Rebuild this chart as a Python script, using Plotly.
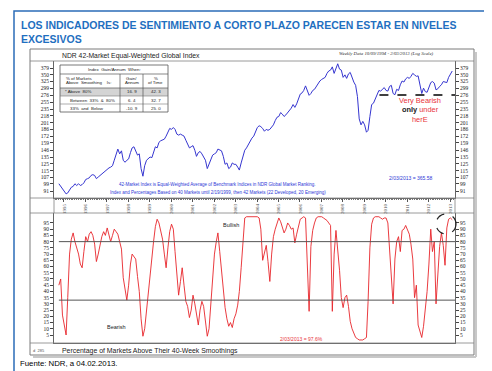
import plotly.graph_objects as go
import pandas as pd
import math

W, H = 492, 371
def px(x): return x / W
def py(y): return 1 - y / H

# ---------------- data ----------------
dates = pd.date_range("1994-10-01", periods=221, freq="MS") + pd.Timedelta(days=5)

index_values = [
    99, 96, 93,
    90, 88, 89, 92, 95, 96, 99, 97, 99, 97, 98, 100,
    104, 105, 106, 109, 110, 109, 105, 107, 109, 110, 113, 114,
    116, 119, 120, 122, 130, 138, 148, 140, 145, 130, 127, 130,
    132, 142, 150, 152, 144, 138, 140, 118, 108, 122, 130, 133,
    135, 134, 142, 152, 150, 160, 163, 165, 166, 172, 180, 188,
    186, 190, 186, 176, 174, 176, 174, 172, 164, 158, 150, 152,
    154, 146, 136, 142, 144, 140, 134, 130, 118, 124, 132, 138,
    140, 142, 148, 146, 145, 136, 124, 126, 118, 120, 126, 124,
    124, 120, 116, 126, 138, 146, 150, 156, 160, 168, 172, 182,
    190, 194, 192, 188, 182, 186, 184, 186, 192, 196, 206, 214,
    216, 226, 222, 216, 220, 226, 234, 238, 248, 240, 250, 262,
    280, 284, 292, 308, 290, 276, 282, 292, 296, 306, 318, 326,
    332, 336, 340, 356, 366, 370, 384, 356, 374, 398, 374, 370,
    340, 350, 336, 354, 360, 338, 322, 310, 272, 210, 196, 204,
    196, 180, 184, 216, 248, 252, 266, 280, 292, 290, 298, 302,
    292, 290, 306, 310, 282, 278, 296, 292, 312, 326, 322, 334,
    340, 336, 344, 356, 350, 344, 346, 306, 282, 300, 288, 286,
    304, 320, 324, 318, 294, 298, 306, 312, 324, 322, 320, 340,
    356, 366,
]

pct_above = [
    45, 50, 21,
    12, 5, 35, 70, 82, 87, 80, 75, 70, 62, 59, 72,
    84, 80, 86, 88, 85, 78, 64, 70, 78, 84, 88, 85,
    91, 86, 80, 85, 90, 88, 86, 80, 74, 51, 42, 33,
    45, 62, 70, 68, 66, 52, 40, 18, 4, 10, 25, 37,
    55, 70, 80, 92, 98, 95, 88, 82, 70, 59, 75, 88,
    94, 90, 72, 56, 37, 48, 59, 45, 32, 28, 19, 25,
    37, 30, 20, 13, 25, 32, 28, 15, 4, 10, 30, 56,
    70, 80, 87, 72, 55, 40, 27, 18, 12, 15, 11, 18,
    22, 29, 40, 59, 80, 99, 100, 100, 100, 100, 100, 100,
    100, 99, 90, 65, 72, 77, 64, 48, 70, 84, 90, 95,
    99, 96, 92, 87, 90, 95, 93, 90, 91, 79, 86, 91,
    98, 99, 100, 99, 56, 24, 76, 89, 95, 99, 100, 100,
    100, 99, 98, 97, 95, 93, 24, 70, 89, 75, 57, 35,
    27, 35, 37, 28, 16, 10, 6, 3, 2, 1, 1, 1,
    2, 3, 32, 75, 94, 99, 100, 100, 100, 99, 98, 99,
    99, 95, 72, 45, 30, 66, 80, 84, 72, 89, 90, 93,
    90, 86, 78, 66, 35, 45, 13, 8, 3, 12, 24, 40,
    62, 90, 72, 80, 30, 57, 76, 87, 77, 61, 91, 98,
    99, 97.6,
]

index_ticks = [379, 350, 325, 299, 276, 255, 235, 218, 201, 186, 172, 159,
               146, 135, 125, 115, 107, 99, 91]
pct_ticks = list(range(5, 100, 5))
years = list(range(1995, 2014))
BULL_LEVEL = 80
BEAR_LEVEL = 33
VERY_BEARISH_INDEX = 277
very_bearish_span = ["2009-09-15", "2013-03-25"]

table_rows = [("* Above  80%", "16. 9", "42. 3"),
              ("Between  33%  &  80%", "6. 4", "32. 7"),
              ("33%  and  Below", "-10. 9", "25. 0")]

# ---------------- figure ----------------
XR = ["1994-07-15", "2013-03-25"]
BLUE = "#3535d0"
RED = "#e8252a"
SERIF = "Liberation Serif"
SANS = "Liberation Sans"

fig = go.Figure()
fig.add_trace(go.Scatter(x=dates, y=index_values, mode="lines",
                         line=dict(color=BLUE, width=1), xaxis="x", yaxis="y",
                         hoverinfo="skip"))
fig.add_trace(go.Scatter(x=dates, y=index_values, mode="lines", opacity=0,
                         line=dict(width=0.1), xaxis="x", yaxis="y2", hoverinfo="skip"))
fig.add_trace(go.Scatter(x=very_bearish_span, y=[VERY_BEARISH_INDEX] * 2, mode="lines",
                         line=dict(color="black", width=1.4, dash="dash"),
                         xaxis="x", yaxis="y", hoverinfo="skip", cliponaxis=False))
fig.add_trace(go.Scatter(x=dates, y=pct_above, mode="lines",
                         line=dict(color=RED, width=0.9), xaxis="x2", yaxis="y3",
                         hoverinfo="skip"))
fig.add_trace(go.Scatter(x=dates, y=pct_above, mode="lines", opacity=0,
                         line=dict(width=0.1), xaxis="x2", yaxis="y4", hoverinfo="skip"))

xdom = [px(46), px(447)]
top_dom = [py(190), py(53)]
bot_dom = [py(335), py(205)]

lo = math.log10(91) - 7 * (math.log10(379) - math.log10(91)) / 123
hi = math.log10(379) + 7 * (math.log10(379) - math.log10(91)) / 123

tickfont = dict(family=SERIF, size=5.5, color="#222")
yax_common = dict(type="log", range=[lo, hi], tickvals=index_ticks,
                  ticktext=[str(v) for v in index_ticks], ticks="outside", ticklen=3,
                  tickcolor="#444", tickfont=tickfont, showgrid=False, zeroline=False,
                  showline=True, linecolor="#666", linewidth=0.8, domain=top_dom)
pax_common = dict(range=[-1.43, 103.0], tickvals=pct_ticks, ticks="outside", ticklen=3,
                  tickcolor="#444", tickfont=tickfont, showgrid=False, zeroline=False,
                  showline=True, linecolor="#666", linewidth=0.8, domain=bot_dom)

fig.update_layout(
    width=W, height=371, margin=dict(l=0, r=0, t=0, b=0),
    paper_bgcolor="white", plot_bgcolor="white", showlegend=False,
    xaxis=dict(domain=xdom, anchor="y", type="date", range=XR,
               tickvals=[f"{y}-01-01" for y in years], ticktext=[str(y) for y in years],
               tickangle=-90, tickfont=dict(family=SERIF, size=5, color="#444"),
               ticks="outside", ticklen=3, tickcolor="#555",
               minor=dict(dtick="M1", ticks="outside", ticklen=1.5, tickcolor="#777"),
               showgrid=False, showline=True, linecolor="#666", linewidth=0.8),
    yaxis=dict(side="left", **yax_common),
    yaxis2=dict(side="right", overlaying="y", anchor="x", **yax_common),
    xaxis2=dict(domain=xdom, anchor="y3", type="date", range=XR, showticklabels=False,
                ticks="", showgrid=False, showline=True, linecolor="#666", linewidth=0.8),
    yaxis3=dict(side="left", anchor="x2", **pax_common),
    yaxis4=dict(side="right", overlaying="y3", anchor="x2", **pax_common),
)

shapes = []
def line(x0, y0, x1, y1, color="#808080", width=0.8, dash="solid"):
    shapes.append(dict(type="line", xref="paper", yref="paper", x0=px(x0), y0=py(y0),
                       x1=px(x1), y1=py(y1), line=dict(color=color, width=width, dash=dash)))
def rect(x0, y0, x1, y1, color="#808080", width=0.8, fill=None):
    shapes.append(dict(type="rect", xref="paper", yref="paper", x0=px(x0), y0=py(y1),
                       x1=px(x1), y1=py(y0), line=dict(color=color, width=width),
                       fillcolor=fill if fill else "rgba(0,0,0,0)", layer="below" if fill else "above"))

# page frame and chart box
rect(6, 3, 487, 366, color="#2b6cb8", width=1.5)
line(468, 44, 468, 349, color="#c8c8c8", width=2)
line(25, 349, 468, 349, color="#c8c8c8", width=2)
rect(22, 41, 466, 347, color="#7a7a7a", width=1)
for yy in (53, 190, 205, 335):
    line(22, yy, 466, yy)
line(46, 190, 46, 205)
line(447, 190, 447, 205)

# guide lines in the bottom panel
for lvl in (BULL_LEVEL, BEAR_LEVEL):
    shapes.append(dict(type="line", xref="x2", yref="y3", x0=dates[0], x1=XR[1],
                       y0=lvl, y1=lvl, line=dict(color="#555", width=1)))

# dashed circle
shapes.append(dict(type="circle", xref="paper", yref="paper", x0=px(428), x1=px(448),
                   y0=py(226), y1=py(206), line=dict(color="#222", width=1.2, dash="dash")))

# table
tx0, tx1, ty0, ty1 = 52, 160, 57, 104
c1, c2 = 112, 135
rect(tx0, 80, tx1, 88, color="rgba(0,0,0,0)", width=0, fill="#d4d4d4")
rect(tx0, ty0, tx1, ty1, color="#555", width=0.8)
line(tx0, 66, tx1, 66, color="#555", width=0.7)
line(tx0, 80, tx1, 80, color="#555", width=0.7)
line(tx0, 88, tx1, 88, color="#777", width=0.6)
line(tx0, 96, tx1, 96, color="#777", width=0.6)
line(c1, 66, c1, ty1, color="#555", width=0.7)
line(c2, 66, c2, ty1, color="#555", width=0.7)

fig.update_layout(shapes=shapes)

anns = []
def ann(x, y, text, size, color="#000", family=SANS, xanchor="left", yanchor="middle", **kw):
    anns.append(dict(xref="paper", yref="paper", x=px(x), y=py(y), text=text, showarrow=False,
                     xanchor=xanchor, yanchor=yanchor,
                     font=dict(size=size, color=color, family=family), **kw))

TITLE_BLUE = "#1f6fc0"
ann(11, 17, "<b>LOS INDICADORES DE SENTIMIENTO A CORTO PLAZO PARECEN ESTAR EN NIVELES</b>", 10.5, TITLE_BLUE)
ann(11, 30.5, "<b>EXCESIVOS</b>", 10.5, TITLE_BLUE)
ann(52, 48, "NDR 42-Market Equal-Weighted Global Index", 6.8, "#222")
ann(378, 45.5, "<i>Weekly Data 10/09/1994 - 2/03/2013 (Log Scale)</i>", 4.8, "#333", family=SERIF, xanchor="center")

# table texts
tf = 4.4
ann(106, 61.5, "Index  Gain/Annum  When:", tf, "#222", xanchor="center")
ann(56, 70.5, "% of Markets", tf, "#222")
ann(56, 75, "Above  Smoothing    Is:", tf, "#222")
ann(123.5, 70.5, "Gain/", tf, "#222", xanchor="center")
ann(123.5, 75, "Annum", tf, "#222", xanchor="center")
ann(147.5, 70.5, "%", tf, "#222", xanchor="center")
ann(147.5, 75, "of Time", tf, "#222", xanchor="center")
for i, (lab, g, t) in enumerate(table_rows):
    yy = 84 + 8 * i
    ann(55 if i == 0 else 60, yy, lab, tf, "#222")
    ann(123.5, yy, g, tf, "#222", xanchor="center")
    ann(147.5, yy, t, tf, "#222", xanchor="center")

# very bearish note
ann(412, 92, "Very Bearish", 7.4, "#e8333a", xanchor="center")
ann(412, 101.5, "<b><span style='color:#222'>only</span></b> under", 7.4, "#e8333a", xanchor="center")
ann(412, 111, "herE", 7.4, "#e8333a", xanchor="center")

ann(402, 170, "2/03/2013 = 365.58", 5, "#2d38d6", xanchor="center")
ann(209, 176.5, "42-Market Index is Equal-Weighted Average of Benchmark Indices in NDR Global Market Ranking.", 4.5, "#2d38d6", xanchor="center")
ann(210, 184, "Index and Percentages Based on 40 Markets until 2/19/1999, then 42 Markets (22 Developed, 20 Emerging)", 4.5, "#2d38d6", xanchor="center")

ann(223, 217.5, "Bullish", 5.5, "#222", xanchor="center")
ann(108, 318.5, "Bearish", 5.5, "#222", xanchor="center")
ann(293, 330.5, "2/03/2013 = 97.6%", 5, "#e8333a", xanchor="center")

ann(23, 342.5, "d  285", 4, "#555")
ann(52, 342.5, "Percentage of Markets Above Their 40-Week Smoothings", 6.9, "#222")
ann(10, 355.5, "Fuente: NDR, a 04.02.2013.", 7.8, "#000")

fig.update_layout(annotations=anns)
fig.write_html("out.html")
